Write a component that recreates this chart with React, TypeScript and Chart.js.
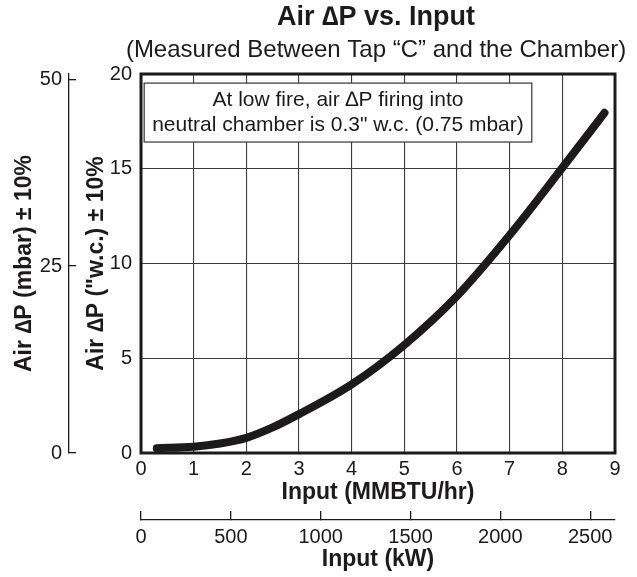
import React, { useEffect, useRef } from "react";
import { Chart, registerables } from "chart.js";

Chart.register(...registerables);

// ---- data ----
const inputMMBTU = [0.3, 1, 1.5, 2, 2.5, 3, 4, 5, 6, 7, 8, 8.8];
const airDPwc = [0.25, 0.33, 0.5, 0.8, 1.35, 2.05, 3.62, 5.7, 8.28, 11.5, 15.05, 17.95];

const xTicks = [0, 1, 2, 3, 4, 5, 6, 7, 8, 9];
const yTicks = [0, 5, 10, 15, 20];
const mbarTicks = [0, 25, 50];
const kwTicks = [0, 500, 1000, 1500, 2000, 2500];

const titleText = "Air \u2206P vs. Input";
const subtitleText = "(Measured Between Tap \u201CC\u201D and the Chamber)";
const yTitle = "Air \u2206P (\"w.c.) \u00B1 10%";
const mbarTitle = "Air \u2206P (mbar) \u00B1 10%";
const xTitle = "Input (MMBTU/hr)";
const kwTitle = "Input (kW)";
const noteLines = [
  "At low fire, air \u2206P firing into",
  "neutral chamber is 0.3\" w.c. (0.75 mbar)",
];
// note box in data units: [x0, x1, yTop, yBottom], text x, line y's
const noteBox = [0.06, 7.42, 19.52, 16.41];
const noteX = 3.74;
const noteLineY = [18.62, 17.3];

const FONT = '"Liberation Sans", Arial, Helvetica, sans-serif';
const INK = "#1c1a1b";

const noteAndFrame = {
  id: "noteAndFrame",
  beforeDatasetsDraw(chart: any) {
    const { ctx, chartArea: a, scales } = chart;
    const xs = scales.x;
    const ys = scales.y;
    ctx.save();
    const l = xs.getPixelForValue(noteBox[0]);
    const r = xs.getPixelForValue(noteBox[1]);
    const t = ys.getPixelForValue(noteBox[2]);
    const b = ys.getPixelForValue(noteBox[3]);
    ctx.fillStyle = "#ffffff";
    ctx.fillRect(l, t, r - l, b - t);
    ctx.strokeStyle = "#333333";
    ctx.lineWidth = 1.2;
    ctx.strokeRect(l, t, r - l, b - t);
    ctx.fillStyle = INK;
    ctx.font = `21px ${FONT}`;
    ctx.textAlign = "center";
    ctx.textBaseline = "middle";
    noteLines.forEach((line, i) => {
      ctx.fillText(line, xs.getPixelForValue(noteX), ys.getPixelForValue(noteLineY[i]));
    });
    ctx.lineWidth = 3;
    ctx.strokeStyle = INK;
    ctx.strokeRect(a.left, a.top, a.right - a.left, a.bottom - a.top);
    ctx.restore();
  },
};

// titles centred over the plot area (they are wider than the plot, so drawn freely)
const headings = {
  id: "headings",
  afterDraw(chart: any) {
    const { ctx, chartArea: a } = chart;
    const cx = (a.left + a.right) / 2 - 2;
    ctx.save();
    ctx.fillStyle = INK;
    ctx.textAlign = "center";
    ctx.textBaseline = "middle";
    ctx.font = `bold 27px ${FONT}`;
    ctx.fillText(titleText, cx, 18);
    ctx.font = `24px ${FONT}`;
    ctx.fillText(subtitleText, cx, 50);
    ctx.restore();
  },
};

export default function App() {
  const ref = useRef<HTMLCanvasElement | null>(null);

  useEffect(() => {
    if (!ref.current) return;
    Chart.defaults.font.family = FONT;
    Chart.defaults.color = INK;
    const tickFont = { size: 20, lineHeight: 1.2 };
    const axisTitleFont = { size: 23, weight: "bold" as const, lineHeight: 1 };
    const plain = (v: any) => String(v);

    const chart = new Chart(ref.current, {
      type: "line",
      data: {
        datasets: [
          {
            data: inputMMBTU.map((x, i) => ({ x, y: airDPwc[i] })),
            borderColor: INK,
            borderWidth: 8,
            borderCapStyle: "round",
            borderJoinStyle: "round",
            pointRadius: 0,
            cubicInterpolationMode: "monotone",
            fill: false,
            xAxisID: "x",
            yAxisID: "y",
          },
        ],
      },
      options: {
        animation: false,
        responsive: false,
        layout: { padding: { left: 13.5, right: 22, top: 74, bottom: 5.5 } },
        plugins: {
          legend: { display: false },
          tooltip: { enabled: false },
          title: { display: false },
          subtitle: { display: false },
        },
        scales: {
          x: {
            type: "linear",
            position: "bottom",
            weight: 0,
            min: 0,
            max: 9,
            afterBuildTicks: (s: any) => {
              s.ticks = xTicks.map((v) => ({ value: v }));
            },
            grid: { color: "#3c3c3c", lineWidth: 1.1, drawTicks: false },
            border: { display: false },
            ticks: { font: tickFont, padding: 4.5, autoSkip: false, maxRotation: 0, callback: plain },
            title: { display: true, text: xTitle, font: axisTitleFont, padding: { top: -4.5, bottom: 15.5 } },
          },
          kw: {
            type: "linear",
            position: "bottom",
            weight: 1,
            min: 0,
            max: 2638,
            afterBuildTicks: (s: any) => {
              s.ticks = kwTicks.map((v) => ({ value: v }));
            },
            grid: { drawOnChartArea: false, drawTicks: true, tickLength: -9, color: INK, lineWidth: 1.3 },
            border: { display: true, color: INK, width: 1.3 },
            ticks: { font: tickFont, padding: 14, autoSkip: false, maxRotation: 0, callback: plain },
            title: { display: true, text: kwTitle, font: axisTitleFont, padding: { top: -14.5, bottom: 0 } },
          },
          y: {
            type: "linear",
            position: "left",
            weight: 0,
            min: 0,
            max: 20,
            afterBuildTicks: (s: any) => {
              s.ticks = yTicks.map((v) => ({ value: v }));
            },
            grid: { color: "#3c3c3c", lineWidth: 1.1, drawTicks: false },
            border: { display: false },
            ticks: { font: tickFont, padding: 9, callback: plain },
            title: { display: true, text: yTitle, font: axisTitleFont, padding: { top: 16.5, bottom: -7.74 } },
          },
          mbar: {
            type: "linear",
            position: "left",
            weight: 1,
            min: 0,
            max: 50.7,
            afterBuildTicks: (s: any) => {
              s.ticks = mbarTicks.map((v) => ({ value: v }));
            },
            grid: { drawOnChartArea: false, drawTicks: true, tickLength: -7, color: INK, lineWidth: 1.3 },
            border: { display: true, color: INK, width: 1.3 },
            ticks: { font: tickFont, padding: 14, callback: plain },
            title: { display: true, text: mbarTitle, font: axisTitleFont, padding: { top: 0, bottom: -10.74 } },
          },
        },
      },
      plugins: [noteAndFrame, headings],
    } as any);

    return () => chart.destroy();
  }, []);

  return (
    <div style={{ position: "absolute", left: 0, top: 0, width: 637, height: 577, background: "#fff" }}>
      <canvas ref={ref} width={637} height={577} />
    </div>
  );
}
